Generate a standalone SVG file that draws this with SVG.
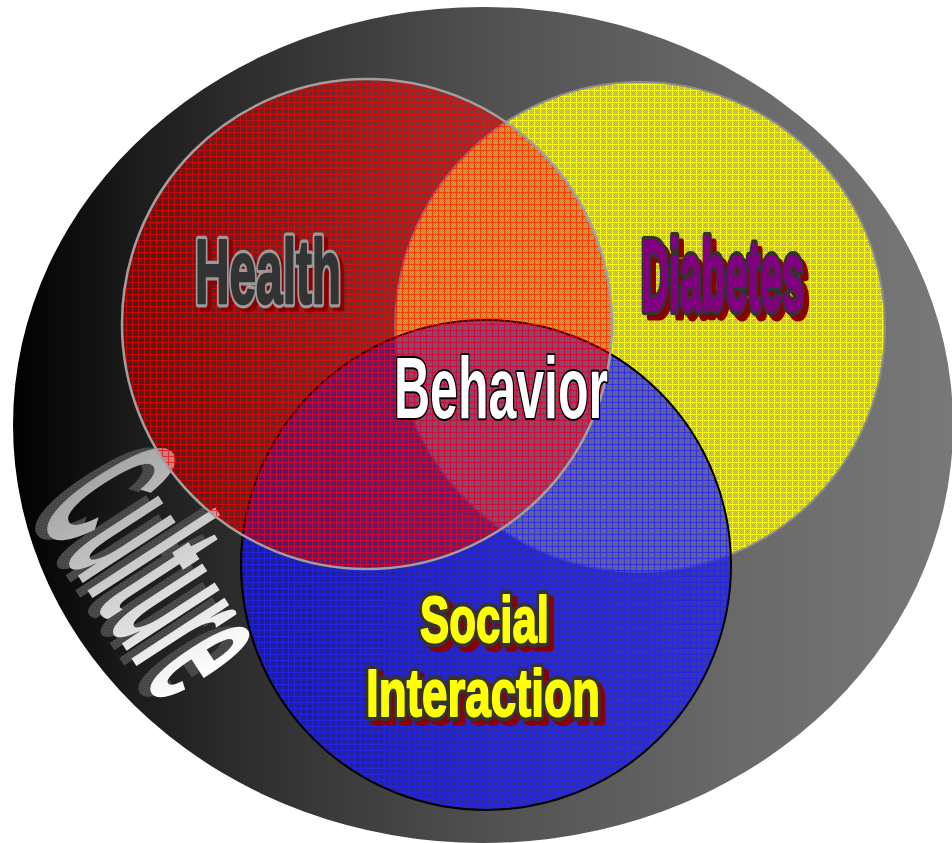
<svg xmlns="http://www.w3.org/2000/svg" width="952" height="843" viewBox="0 0 952 843">
  <defs>
    <!-- background disc: black on the left fading to mid grey on the right -->
    <linearGradient id="discGrad" gradientUnits="userSpaceOnUse" x1="13" y1="0" x2="953" y2="0">
      <stop offset="0" stop-color="#000000"/>
      <stop offset="0.12" stop-color="#1a1a1a"/>
      <stop offset="0.25" stop-color="#2e2e2e"/>
      <stop offset="0.5" stop-color="#505050"/>
      <stop offset="0.78" stop-color="#6a6a6a"/>
      <stop offset="1" stop-color="#787878"/>
    </linearGradient>
    <linearGradient id="cultureGrad" x1="0" y1="0" x2="1" y2="0">
      <stop offset="0" stop-color="#a6a6a6"/>
      <stop offset="1" stop-color="#ffffff"/>
    </linearGradient>

    <!-- woven grid fills: translucent cloth with stronger threads -->
    <pattern id="gridRed" width="6" height="6" patternUnits="userSpaceOnUse">
      <rect width="6" height="6" fill="#e01010" fill-opacity="0.28"/>
      <rect x="0" y="0" width="6" height="1" fill="#ff0000" fill-opacity="0.68"/>
      <rect x="0" y="1" width="1" height="5" fill="#ff0000" fill-opacity="0.68"/>
    </pattern>
    <pattern id="gridYellow" width="6" height="6" patternUnits="userSpaceOnUse">
      <rect width="6" height="6" fill="#e2e200"/>
      <g fill="#b0b040">
        <rect x="2" y="2" width="1" height="1"/><rect x="4" y="2" width="1" height="1"/>
        <rect x="3" y="3" width="1" height="1"/><rect x="2" y="4" width="1" height="1"/>
        <rect x="4" y="4" width="1" height="1"/><rect x="1" y="1" width="1" height="1"/>
        <rect x="5" y="5" width="1" height="1"/><rect x="3" y="5" width="1" height="1"/>
        <rect x="5" y="3" width="1" height="1"/><rect x="1" y="3" width="1" height="1"/>
        <rect x="3" y="1" width="1" height="1"/><rect x="1" y="5" width="1" height="1"/>
        <rect x="5" y="1" width="1" height="1"/>
      </g>
      <rect x="0" y="0" width="6" height="1" fill="#ffff00"/>
      <rect x="0" y="0" width="1" height="6" fill="#ffff00"/>
    </pattern>
    <pattern id="gridBlue" width="6" height="6" patternUnits="userSpaceOnUse">
      <rect width="6" height="6" fill="#1010c8" fill-opacity="0.55"/>
      <rect x="0" y="0" width="6" height="1" fill="#2020ff" fill-opacity="0.8"/>
      <rect x="0" y="1" width="1" height="5" fill="#2020ff" fill-opacity="0.8"/>
    </pattern>
    <pattern id="gridShade" width="4" height="4" patternUnits="userSpaceOnUse">
      <rect width="4" height="4" fill="#454545"/>
      <rect x="0" y="0" width="1" height="1" fill="#606060"/>
      <rect x="2" y="2" width="1" height="1" fill="#606060"/>
    </pattern>
  </defs>

  <style>
    .label { font-family: "Liberation Sans Narrow", "Liberation Sans", "DejaVu Sans", sans-serif; font-weight: bold; stroke-linejoin: round; }
    .wide { font-family: "Liberation Sans", "DejaVu Sans", sans-serif; }
    .shadow { fill: #8b0000; stroke: #8b0000; stroke-width: 9; }
    .health-edge { fill: #9a9a9a; stroke: #9a9a9a; stroke-width: 9; }
    .health { fill: #333333; stroke: #333333; stroke-width: 2.5; }
    .dark-edge { fill: #333333; stroke: #333333; stroke-width: 10; }
    .diabetes { fill: #800080; stroke: #800080; stroke-width: 2.5; }
    .social { fill: #ffff00; stroke: #ffff00; stroke-width: 2; }
    .behavior { fill: #ffffff; stroke: #000000; stroke-width: 4; paint-order: stroke; }
  </style>

  <!-- outer set -->
  <g id="culture-disc">
    <ellipse cx="483" cy="425" rx="470" ry="418" fill="url(#discGrad)"/>
  </g>

  <g id="culture">
    <g transform="translate(152,576) rotate(57)">
      <text class="label" x="0" y="62" font-size="210" text-anchor="middle" textLength="232" lengthAdjust="spacingAndGlyphs" fill="url(#gridShade)" transform="translate(-7,10)">Culture</text>
      <text class="label" x="0" y="62" font-size="210" text-anchor="middle" textLength="232" lengthAdjust="spacingAndGlyphs" fill="url(#cultureGrad)">Culture</text>
    </g>
  </g>

  <g id="diabetes">
    <circle cx="640" cy="327" r="245" fill="url(#gridYellow)" stroke="#8c8c8c" stroke-width="2"/>
  </g>

  <g id="social-interaction">
    <circle cx="486" cy="565" r="245" fill="url(#gridBlue)" stroke="#000" stroke-width="2"/>
  </g>

  <g id="health">
    <circle cx="367" cy="324" r="245" fill="url(#gridRed)" stroke="#a0a0a0" stroke-width="2.5"/>
  </g>

  <!-- set labels: shadow, outline, then letter body -->
  <g id="labels">
    <text class="label shadow" x="199" y="307" font-size="90" textLength="146" lengthAdjust="spacingAndGlyphs">Health</text>
    <text class="label health-edge" x="195" y="303" font-size="90" textLength="146" lengthAdjust="spacingAndGlyphs">Health</text>
    <text class="label health" x="195" y="303" font-size="90" textLength="146" lengthAdjust="spacingAndGlyphs">Health</text>

    <text class="label shadow" x="646" y="316" font-size="100" textLength="163" lengthAdjust="spacingAndGlyphs">Diabetes</text>
    <text class="label dark-edge" x="641" y="310" font-size="100" textLength="163" lengthAdjust="spacingAndGlyphs">Diabetes</text>
    <text class="label diabetes" x="641" y="310" font-size="100" textLength="163" lengthAdjust="spacingAndGlyphs">Diabetes</text>

    <text class="label wide behavior" x="394" y="418" font-size="88" textLength="214" lengthAdjust="spacingAndGlyphs">Behavior</text>

    <text class="label shadow" x="425" y="647" font-size="65" textLength="129" lengthAdjust="spacingAndGlyphs">Social</text>
    <text class="label dark-edge" x="420" y="642" font-size="65" textLength="129" lengthAdjust="spacingAndGlyphs">Social</text>
    <text class="label social" x="420" y="642" font-size="65" textLength="129" lengthAdjust="spacingAndGlyphs">Social</text>

    <text class="label shadow" x="371" y="721" font-size="67" textLength="234" lengthAdjust="spacingAndGlyphs">Interaction</text>
    <text class="label dark-edge" x="366" y="716" font-size="67" textLength="234" lengthAdjust="spacingAndGlyphs">Interaction</text>
    <text class="label social" x="366" y="716" font-size="67" textLength="234" lengthAdjust="spacingAndGlyphs">Interaction</text>
  </g>
</svg>
